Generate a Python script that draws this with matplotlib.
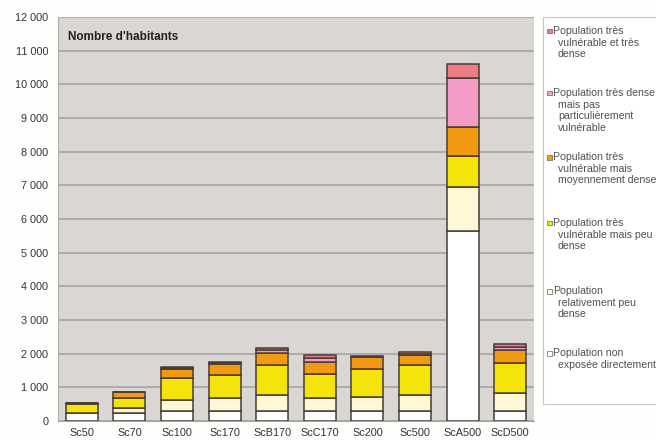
import matplotlib.pyplot as plt
from matplotlib.patches import Rectangle
import numpy as np

plt.rcParams['font.family'] = ['Liberation Sans', 'DejaVu Sans']

# scenarios
scenarios = ['Sc50', 'Sc70', 'Sc100', 'Sc170', 'ScB170', 'ScC170',
             'Sc200', 'Sc500', 'ScA500', 'ScD500']

# stacked layers, bottom to top
non_expose = [230, 250, 290, 300, 300, 300, 300, 300, 5630, 300]
peu_dense = [20, 150, 330, 370, 470, 370, 420, 470, 1320, 520]
vuln_peu_dense = [250, 270, 650, 700, 900, 740, 820, 900, 910, 890]
vuln_moy_dense = [40, 200, 270, 310, 350, 350, 350, 300, 860, 400]
dense_pas_vuln = [0, 0, 30, 40, 80, 110, 0, 30, 1460, 90]
vuln_tres_dense = [0, 0, 20, 30, 70, 90, 30, 40, 420, 90]

layers = [non_expose, peu_dense, vuln_peu_dense, vuln_moy_dense,
          dense_pas_vuln, vuln_tres_dense]
colors = ['#FFFFFF', '#FFF8D4', '#F5E40C', '#F29A12', '#F29CC6', '#EC7C86']
labels = ['Population non\nexposée directement',
          'Population\nrelativement peu\ndense',
          'Population très\nvulnérable mais peu\ndense',
          'Population très\nvulnérable mais\nmoyennement dense',
          'Population très dense\nmais pas\nparticulièrement\nvulnérable',
          'Population très\nvulnérable et très\ndense']

yticks = np.arange(0, 12001, 1000)

fig = plt.figure(figsize=(6.56, 4.40), dpi=100)
fig.patch.set_facecolor('#FEFEFC')
ax = fig.add_axes([58 / 656, 1 - 421 / 440, 476 / 656, 404 / 440])
ax.set_facecolor('#D9D6D4')

x = np.arange(len(scenarios))
bottom = np.zeros(len(scenarios))
for vals, col in zip(layers, colors):
    vals = np.array(vals, dtype=float)
    ax.bar(x, vals, bottom=bottom, width=0.67, color=col,
           edgecolor='#4A3C36', linewidth=1.1, zorder=3)
    bottom += vals

ax.set_xlim(-0.5, len(scenarios) - 0.5)
ax.set_ylim(0, 12000)
ax.set_yticks(yticks)
ax.set_yticklabels([f'{v:,}'.replace(',', ' ') for v in yticks])
ax.set_xticks(x)
ax.set_xticklabels(scenarios)
ax.tick_params(axis='both', length=0, labelsize=7.8, colors='#333333')
ax.tick_params(axis='y', pad=7)
ax.tick_params(axis='x', pad=5)
ax.yaxis.grid(True, color='#A6A4A2', linewidth=1.2, zorder=0)
ax.set_axisbelow(True)
for side in ['top', 'right']:
    ax.spines[side].set_visible(False)
ax.spines['left'].set_color('#B0AEAC')
ax.spines['bottom'].set_color('#A6A4A2')

ax.text(0.02, 0.95, "Nombre d'habitants", transform=ax.transAxes,
        fontsize=8.5, fontweight='bold', color='#222222', va='center')

# legend box drawn by hand (Excel-like fixed slots)
fig.patches.append(Rectangle((543 / 656, 1 - 404 / 440), 0.3, 387 / 440,
                             transform=fig.transFigure, facecolor='white',
                             edgecolor='#C8C6C4', linewidth=0.8))
slots = [30, 92, 156, 222, 290, 352]
for i, (lab, col) in enumerate(zip(labels[::-1], colors[::-1])):
    ytop = slots[i]
    fig.patches.append(Rectangle((547 / 656, 1 - (ytop + 3.5) / 440),
                                 4.5 / 656, 4.5 / 440,
                                 transform=fig.transFigure, facecolor=col,
                                 edgecolor='#666666', linewidth=0.5))
    first, *rest = lab.split('\n')
    fig.text(553 / 656, 1 - (ytop - 4.5) / 440, first, fontsize=7.6,
             color='#505050', va='top', ha='left')
    if rest:
        fig.text(558 / 656, 1 - (ytop + 7.5) / 440, '\n'.join(rest), fontsize=7.6,
                 color='#505050', va='top', ha='left', linespacing=1.2)

fig.savefig('out.png', dpi=100, facecolor=fig.get_facecolor())
